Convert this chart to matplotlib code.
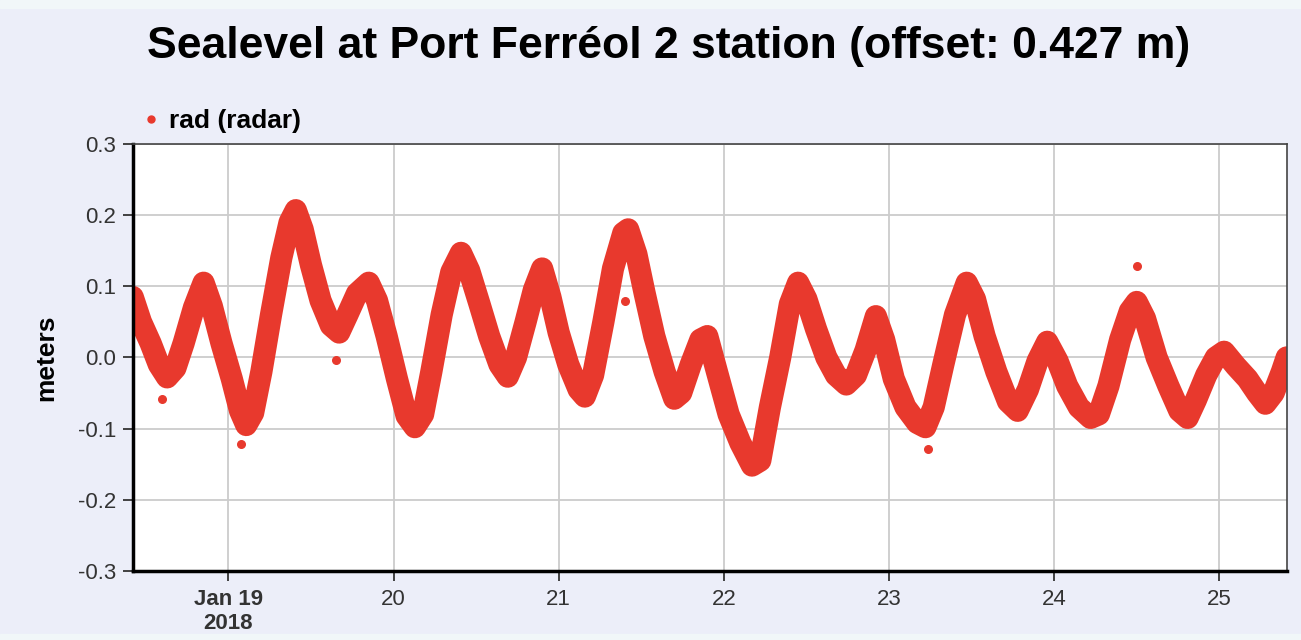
import pandas as pd
import matplotlib
matplotlib.use("Agg")
import matplotlib.pyplot as plt
from matplotlib.lines import Line2D
from matplotlib.patches import Rectangle

hours = [10.1, 11.3, 12.7, 13.9, 15.1, 16.3, 17.5, 19.0, 20.4, 21.6, 23.0,
         24.5, 25.7, 26.6, 27.6, 28.8, 30.2, 31.7, 32.9, 33.8, 34.8, 36.0,
         37.4, 38.9, 40.1, 41.3, 42.7, 44.4, 45.6, 47.0, 48.5, 49.9, 51.1,
         52.3, 53.5, 55.0, 56.4, 57.8, 59.0, 60.5, 61.9, 63.4, 64.6, 65.8,
         67.2, 68.4, 69.6, 70.8, 72.0, 73.4, 74.9, 75.8, 77.0, 78.5, 79.9,
         81.4, 82.1, 83.3, 84.5, 85.9, 87.4, 88.8, 89.8, 91.2, 92.6, 93.6,
         95.0, 96.7, 98.4, 100.1, 101.3, 102.7, 104.2, 105.6, 106.8, 108.0,
         109.4, 110.9, 112.3, 113.8, 115.2, 116.6, 118.1, 119.3, 120.7,
         122.4, 124.1, 125.3, 126.5, 127.9, 129.6, 131.3, 132.5, 133.9,
         135.6, 137.3, 138.7, 140.2, 141.6, 143.0, 144.5, 145.9, 147.6,
         149.3, 150.5, 151.9, 153.6, 155.0, 156.0, 157.2, 158.9, 160.6,
         162.2, 163.4, 164.6, 166.1, 167.5, 168.7, 170.4, 172.1, 173.5,
         174.7, 175.9, 177.1, 177.8]
level = [0.085, 0.05, 0.02, -0.01, -0.028, -0.015, 0.02, 0.07, 0.105, 0.072,
         0.02, -0.03, -0.075, -0.095, -0.078, -0.02, 0.06, 0.14, 0.19, 0.207,
         0.18, 0.13, 0.08, 0.045, 0.035, 0.06, 0.09, 0.105, 0.08, 0.03,
         -0.03, -0.082, -0.098, -0.08, -0.02, 0.06, 0.12, 0.147, 0.122, 0.075,
         0.03, -0.01, -0.027, 0.0, 0.05, 0.095, 0.125, 0.085, 0.035, -0.01,
         -0.045, -0.055, -0.025, 0.05, 0.125, 0.175, 0.18, 0.145, 0.09, 0.03,
         -0.02, -0.058, -0.05, -0.01, 0.025, 0.03, -0.02, -0.08, -0.12,
         -0.152, -0.145, -0.07, 0.0, 0.075, 0.105, 0.082, 0.04, 0.0, -0.025,
         -0.038, -0.025, 0.01, 0.058, 0.025, -0.03, -0.07, -0.092, -0.098,
         -0.07, -0.01, 0.06, 0.105, 0.082, 0.03, -0.02, -0.062, -0.075,
         -0.045, -0.005, 0.022, -0.005, -0.04, -0.07, -0.085, -0.08, -0.04,
         0.025, 0.065, 0.078, 0.055, 0.0, -0.04, -0.075, -0.085, -0.06,
         -0.025, 0.0, 0.008, -0.012, -0.03, -0.05, -0.065, -0.05, -0.02, 0.0]

# isolated readings outside the main band
spike_hours = [14.3, 25.9, 39.7, 81.6, 125.7, 156.0]
spike_level = [-0.059, -0.121, -0.003, 0.079, -0.128, 0.128]

day_labels = ["Jan 19\n2018", "20", "21", "22", "23", "24", "25"]
y_ticks = [0.3, 0.2, 0.1, 0.0, -0.1, -0.2, -0.3]

start = pd.Timestamp("2018-01-18 00:00")
t = start + pd.to_timedelta(hours, unit="h")
ts = start + pd.to_timedelta(spike_hours, unit="h")

red = "#e8392d"
bg = "#eceef9"

plt.rcParams["font.family"] = ["Liberation Sans", "DejaVu Sans"]

fig = plt.figure(figsize=(13.01, 6.4), dpi=100, facecolor=bg)
# lighter strips at the very top and bottom of the screenshot
fig.patches.append(Rectangle((0, 0.988), 1, 0.012, transform=fig.transFigure,
                             color="#f1f7f9", zorder=-1))
fig.patches.append(Rectangle((0, 0), 1, 0.01, transform=fig.transFigure,
                             color="#f1f7f9", zorder=-1))

ax = fig.add_axes([0.102, 0.108, 0.887, 0.667])

ax.plot(t, level, color=red, lw=16, solid_capstyle="round",
        solid_joinstyle="round")
ax.scatter(ts, spike_level, s=30, color=red, zorder=3)

ax.set_xlim(start + pd.Timedelta(hours=10.1), start + pd.Timedelta(hours=177.8))
ax.set_ylim(-0.3, 0.3)
ax.set_yticks(y_ticks)
ax.set_yticklabels([f"{v:.1f}" for v in y_ticks])
ax.set_xticks([pd.Timestamp(f"2018-01-{d}") for d in range(19, 26)])
ax.set_xticklabels(day_labels)
ax.get_xticklabels()[0].set_fontweight("bold")

ax.grid(True, color="#cccccc", lw=1.3)
ax.set_axisbelow(True)
ax.tick_params(axis="both", labelsize=16, colors="#333333", length=7, width=1.3)
ax.tick_params(axis="x", pad=6)
ax.tick_params(axis="y", pad=5)
for s in ["left", "bottom"]:
    ax.spines[s].set_linewidth(2.5)
    ax.spines[s].set_color("black")
for s in ["top", "right"]:
    ax.spines[s].set_linewidth(1.2)
    ax.spines[s].set_color("#444444")

ax.set_ylabel("meters", fontsize=19, fontweight="bold", labelpad=14)

fig.suptitle("Sealevel at Port Ferréol 2 station (offset: 0.427 m)",
             fontsize=32, fontweight="bold", x=0.514, y=0.927, va="center")

handle = Line2D([], [], ls="none", marker="o", ms=5, color=red)
ax.legend([handle], ["rad (radar)"], loc="lower left",
          bbox_to_anchor=(-0.005, 1.0), frameon=False, handletextpad=0.2,
          handlelength=1.0, borderaxespad=0.0,
          prop={"weight": "bold", "size": 19})

fig.savefig("out.png", dpi=100, facecolor=bg)
